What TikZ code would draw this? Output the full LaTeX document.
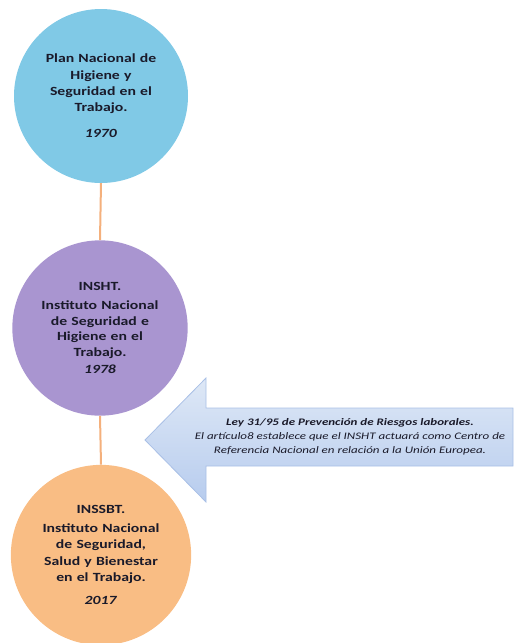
\documentclass[tikz,border=0pt]{standalone}
\usepackage{fontspec}
\setmainfont{Carlito}
\newfontfamily\widefont[FakeStretch=1.26]{Carlito}
\newfontfamily\callfont[FakeStretch=1.3]{Carlito}
\definecolor{cblue}{HTML}{80C9E6}
\definecolor{cpurple}{HTML}{A995D0}
\definecolor{corange}{HTML}{F9BD84}
\definecolor{cline}{HTML}{F4B07C}
\definecolor{atop}{HTML}{DEE8F6}
\definecolor{abot}{HTML}{B7CCEE}
\definecolor{aedge}{HTML}{A9C0E6}
\definecolor{ctext}{HTML}{1A1A2A}
\begin{document}
\begin{tikzpicture}[x=1pt,y=-1pt,
  bubble/.style={circle,inner sep=0pt,text width=150pt,align=center,
    font=\widefont\fontsize{12.5}{16.3}\selectfont\bfseries,text=ctext},
  tightbubble/.style={bubble,font=\widefont\fontsize{12.5}{15.5}\selectfont\bfseries},
  link/.style={draw=cline,line width=2pt},
  calltext/.style={align=center,font=\callfont\fontsize{10}{14}\selectfont\itshape,text=ctext}]
\useasboundingbox (0,0) rectangle (516,643);
\node[bubble,fill=cblue,minimum size=174pt] (c1) at (101,96)
  {Plan Nacional de\\ Higiene y\\ Seguridad en el\\ Trabajo.\\[10pt] \textit{1970}};
\node[tightbubble,fill=cpurple,minimum size=174pt] (c2) at (100,328)
  {INSHT.\\[4pt] Instituto Nacional\\ de Seguridad e\\ Higiene en el\\ Trabajo.\\[2pt] \textit{1978}};
\node[bubble,fill=corange,minimum size=170pt] (c3) at (101,555)
  {INSSBT.\\[3pt] Instituto Nacional\\ de Seguridad,\\ Salud y Bienestar\\ en el Trabajo.\\[7pt] \textit{2017}};
\draw[link] (c1.south) -- (c2.north);
\draw[link] (c2.south) -- (c3.north);
\shade[top color=atop,bottom color=abot,draw=aedge,line width=0.8pt]
  (145,440) -- (206,378) -- (206,408) -- (513,408) -- (513,466)
  -- (206,466) -- (206,502) -- cycle;
\node[calltext] (law) at (350,437)
  {\textbf{Ley 31/95 de Prevención de Riesgos laborales.}\\
   El artículo8 establece que el INSHT actuará como Centro de\\
   Referencia Nacional en relación a la Unión Europea.};
\end{tikzpicture}
\end{document}
